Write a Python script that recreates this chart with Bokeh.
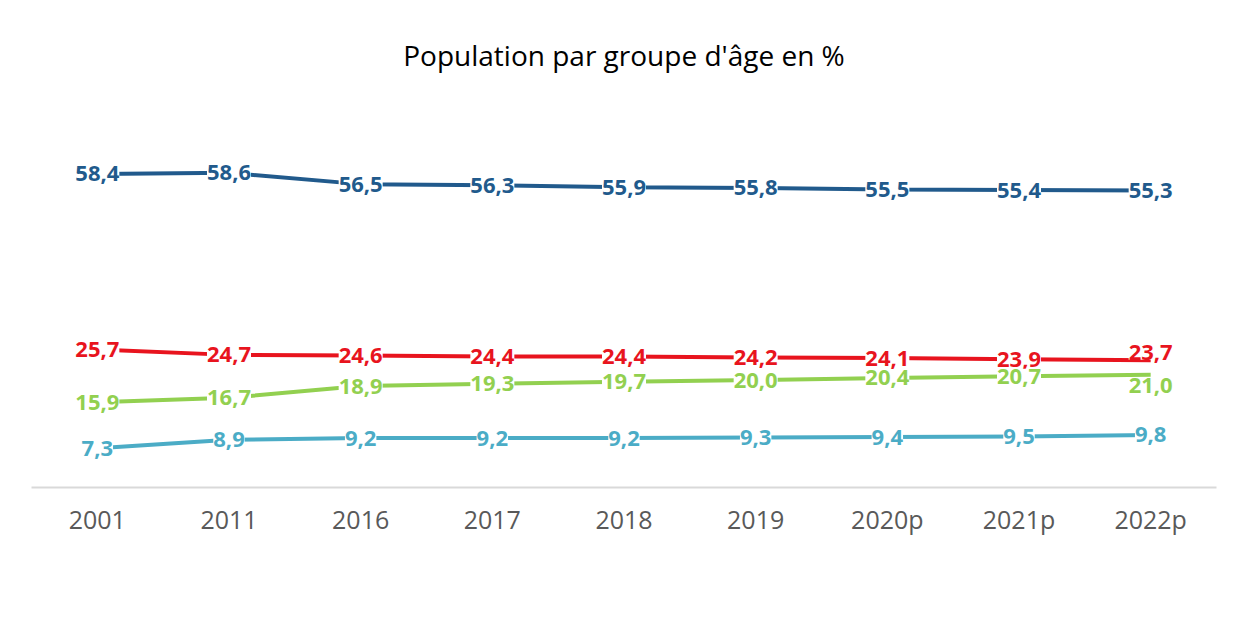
from bokeh.plotting import figure
from bokeh.models import ColumnDataSource, LabelSet, Legend, LegendItem, Range1d, FactorRange
from bokeh.core.properties import value
from bokeh.embed import file_html
from bokeh.resources import INLINE

years = ["2001", "2011", "2016", "2017", "2018", "2019", "2020p", "2021p", "2022p"]
moins20 = [25.7, 24.7, 24.6, 24.4, 24.4, 24.2, 24.1, 23.9, 23.7]
de20a64 = [58.4, 58.6, 56.5, 56.3, 55.9, 55.8, 55.5, 55.4, 55.3]
plus65 = [15.9, 16.7, 18.9, 19.3, 19.7, 20.0, 20.4, 20.7, 21.0]
plus75 = [7.3, 8.9, 9.2, 9.2, 9.2, 9.3, 9.4, 9.5, 9.8]
series_names = ["Moins de 20 ans", "De 20 à 64 ans", "65 ans ou plus", "75 ans ou plus"]

colors = ["#E8141E", "#215A8C", "#92D050", "#4BACC6"]
FONT = "Open Sans"

p = figure(x_range=FactorRange(*years, range_padding=0), y_range=Range1d(0, 75.8),
           frame_width=1185, frame_height=407, output_backend="svg", toolbar_location=None,
           min_border_left=31, min_border_right=20, min_border_top=80, min_border_bottom=0)
p.outline_line_color = None
p.xgrid.grid_line_color = None
p.ygrid.grid_line_color = None
p.yaxis.visible = False

p.title.text = "Population par groupe d'âge en %"
p.title.align = "center"
p.title.text_font = FONT
p.title.text_font_size = "28px"
p.title.text_font_style = "normal"
p.title.text_color = "#000000"
p.title.standoff = 14

ax = p.xaxis[0]
ax.axis_line_color = "#D9D9D9"
ax.axis_line_width = 2
ax.major_tick_line_color = None
ax.minor_tick_line_color = None
ax.major_label_text_font = FONT
ax.major_label_text_font_size = "25px"
ax.major_label_text_color = "#595959"
ax.major_label_standoff = 8

def fmt(v):
    return f"{v:.1f}".replace(".", ",")

all_series = [moins20, de20a64, plus65, plus75]
last_offsets = [8, 0, -11, 0]
items = []
for vals, name, col, loff in zip(all_series, series_names, colors, last_offsets):
    src = ColumnDataSource(dict(x=years, y=vals))
    p.line("x", "y", source=src, line_color=col, line_width=4)

    src_a = ColumnDataSource(dict(x=years[:-1], y=vals[:-1], lab=[fmt(v) for v in vals[:-1]]))
    src_b = ColumnDataSource(dict(x=years[-1:], y=vals[-1:], lab=[fmt(v) for v in vals[-1:]]))
    for s, off in ((src_a, 0), (src_b, loff)):
        labels = LabelSet(x="x", y="y", text="lab", source=s, text_align="center",
                          text_baseline="middle", y_offset=off, text_font=value(FONT),
                          text_font_size="22px", text_font_style="bold", text_color=col,
                          background_fill_color="white")
        p.add_layout(labels)

    dummy = p.line(x=years[:1], y=vals[:1], line_color=col, line_width=4, line_dash="18 17")
    items.append(LegendItem(label=name, renderers=[dummy]))

legend = Legend(items=items, orientation="horizontal", location="top_center",
                glyph_width=55, glyph_height=30, label_standoff=5, spacing=30,
                label_text_font=FONT, label_text_font_size="24px", label_text_color="#262626",
                border_line_color=None, background_fill_alpha=0, margin=36, padding=6)
p.add_layout(legend, "below")

open("out.html", "w").write(file_html(p, INLINE))
